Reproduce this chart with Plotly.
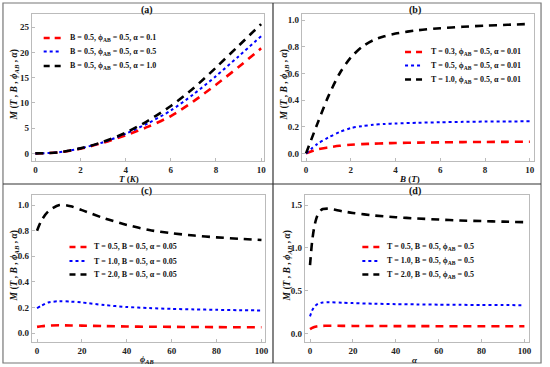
import plotly.graph_objects as go

W, H = 550, 367

# ---------------- data ----------------
# (a) M vs T
T_a = [0, 1, 2, 3, 4, 5, 6, 7, 8, 9, 10]
a_red = [0, 0.2, 0.95, 2.1, 3.6, 5.3, 7.4, 10.3, 13.6, 17.1, 20.8]
a_blue = [0, 0.2, 1.0, 2.2, 3.9, 6.0, 8.5, 11.7, 15.3, 19.2, 23.2]
a_black = [0, 0.2, 1.0, 2.3, 4.1, 6.5, 9.4, 12.9, 17.0, 21.3, 25.6]
a_names = ["B = 0.5, ϕ<sub>AB</sub> = 0.5, α = 0.1",
           "B = 0.5, ϕ<sub>AB</sub> = 0.5, α = 0.5",
           "B = 0.5, ϕ<sub>AB</sub> = 0.5, α = 1.0"]

# (b) M vs B
B_b = [0, 0.5, 1, 1.5, 2, 2.5, 3, 3.5, 4, 5, 6, 7, 8, 9, 10]
b_red = [0, 0.03, 0.045, 0.057, 0.065, 0.07, 0.073, 0.076, 0.078, 0.081, 0.083, 0.085, 0.086, 0.087, 0.088]
b_blue = [0, 0.07, 0.12, 0.16, 0.19, 0.205, 0.215, 0.221, 0.225, 0.23, 0.234, 0.237, 0.239, 0.24, 0.241]
b_black = [0, 0.22, 0.43, 0.6, 0.72, 0.8, 0.85, 0.88, 0.9, 0.925, 0.94, 0.951, 0.959, 0.966, 0.972]
b_names = ["T = 0.3, ϕ<sub>AB</sub> = 0.5, α = 0.01",
           "T = 0.5, ϕ<sub>AB</sub> = 0.5, α = 0.01",
           "T = 1.0, ϕ<sub>AB</sub> = 0.5, α = 0.01"]

# (c) M vs phi_AB
phi_c = [0, 2, 5, 10, 15, 20, 30, 40, 50, 60, 70, 80, 90, 100]
c_red = [0.05, 0.055, 0.06, 0.062, 0.061, 0.06, 0.056, 0.053, 0.051, 0.05, 0.049, 0.048, 0.047, 0.047]
c_blue = [0.195, 0.215, 0.24, 0.25, 0.247, 0.24, 0.22, 0.205, 0.197, 0.19, 0.186, 0.183, 0.18, 0.178]
c_black = [0.8, 0.88, 0.95, 1.0, 0.99, 0.96, 0.896, 0.845, 0.805, 0.78, 0.762, 0.748, 0.737, 0.727]
c_names = ["T = 0.5, B = 0.5, α = 0.05",
           "T = 1.0, B = 0.5, α = 0.05",
           "T = 2.0, B = 0.5, α = 0.05"]

# (d) M vs alpha
al_d = [0, 1, 2, 3, 4, 5, 6, 8, 10, 15, 20, 30, 40, 50, 60, 70, 80, 90, 100]
d_red = [0.05, 0.065, 0.075, 0.082, 0.086, 0.088, 0.089, 0.09, 0.09, 0.089, 0.088, 0.087, 0.086, 0.086, 0.085, 0.085, 0.085, 0.085, 0.085]
d_blue = [0.2, 0.27, 0.31, 0.335, 0.35, 0.358, 0.362, 0.365, 0.364, 0.36, 0.355, 0.348, 0.343, 0.34, 0.337, 0.335, 0.333, 0.332, 0.331]
d_black = [0.8, 1.08, 1.25, 1.35, 1.41, 1.44, 1.455, 1.46, 1.455, 1.43, 1.41, 1.38, 1.36, 1.345, 1.333, 1.322, 1.315, 1.308, 1.302]
d_names = ["T = 0.5, B = 0.5, ϕ<sub>AB</sub> = 0.5",
           "T = 1.0, B = 0.5, ϕ<sub>AB</sub> = 0.5",
           "T = 2.0, B = 0.5, ϕ<sub>AB</sub> = 0.5"]

# ---------------- styling ----------------
FONT = "Liberation Serif"
styles = [dict(color="#ff0000", width=2.6, dash="8px,6px"),
          dict(color="#0000ff", width=2.0, dash="dot"),
          dict(color="#000000", width=2.6, dash="8px,6px")]

def px2x(p):
    return p / W

def px2y(p):
    return 1 - p / H

panels = [
    dict(x=T_a, ys=[a_red, a_blue, a_black], names=a_names, dom=(32, 266, 14, 161),
         xr=[-0.16, 10.13], yr=[-1.5, 27.6], xt=[0, 2, 4, 6, 8, 10], yt=[0, 5, 10, 15, 20, 25],
         ytf=None, leg=(44, 62, 68, [38, 51.5, 66]), title="(a)", tx=148, xtx=130,
         xtitle="<i>T</i> (<i>K</i>)"),
    dict(x=B_b, ys=[b_red, b_blue, b_black], names=b_names, dom=(304, 538, 14, 161),
         xr=[-0.19, 10.19], yr=[-0.057, 1.047], xt=[0, 2, 4, 6, 8, 10], yt=[0, 0.2, 0.4, 0.6, 0.8, 1.0],
         ytf=".1f", leg=(408, 426, 432, [52, 65.5, 79.5]), title="(b)", tx=418, xtx=412,
         xtitle="<i>B</i> (<i>T</i>)"),
    dict(x=phi_c, ys=[c_red, c_blue, c_black], names=c_names, dom=(32, 267, 195, 342),
         xr=[-2.35, 101.6], yr=[-0.068, 1.078], xt=[0, 20, 40, 60, 80, 100], yt=[0, 0.2, 0.4, 0.6, 0.8, 1.0],
         ytf=".1f", leg=(70, 88, 93, [247, 261, 274.5]), title="(c)", tx=148, xtx=148,
         xtitle="<i>ϕ<sub>AB</sub></i>"),
    dict(x=al_d, ys=[d_red, d_blue, d_black], names=d_names, dom=(307, 533, 195, 342),
         xr=[-2.45, 102.2], yr=[-0.10, 1.62], xt=[0, 20, 40, 60, 80, 100], yt=[0, 0.5, 1.0, 1.5],
         ytf=".1f", leg=(365, 383, 388, [247, 261, 274.5]), title="(d)", tx=418, xtx=418,
         xtitle="<i>α</i>"),
]

fig = go.Figure()
layout = {}
annotations = []
shapes = []
tickfont = dict(family=FONT, size=9, color="#222", weight="bold")

for i, p in enumerate(panels):
    n = i + 1
    xa = "x" if n == 1 else f"x{n}"
    ya = "y" if n == 1 else f"y{n}"
    x0, x1, y0, y1 = p["dom"]
    for ys, name, st in zip(p["ys"], p["names"], styles):
        fig.add_trace(go.Scatter(x=p["x"], y=ys, mode="lines", name=name,
                                 line=dict(shape="spline", smoothing=0.8, **st),
                                 xaxis=xa, yaxis=ya, showlegend=False))
    axcommon = dict(showgrid=False, zeroline=False, showline=True, mirror=True,
                    linecolor="#bbbbbb", linewidth=1, ticks="inside", ticklen=3,
                    tickcolor="#bbbbbb", tickfont=tickfont)
    layout[("xaxis" if n == 1 else f"xaxis{n}")] = dict(
        domain=[px2x(x0), px2x(x1)], range=p["xr"], tickvals=p["xt"],
        anchor=ya, **axcommon)
    yd = dict(domain=[px2y(y1), px2y(y0)], range=p["yr"], tickvals=p["yt"],
              anchor=xa, **axcommon)
    if p["ytf"]:
        yd["tickformat"] = p["ytf"]
    layout[("yaxis" if n == 1 else f"yaxis{n}")] = yd

    # manual legend
    lx0, lx1, tx, rows = p["leg"]
    for ry, name, st in zip(rows, p["names"], styles):
        shapes.append(dict(type="line", xref="paper", yref="paper",
                           x0=px2x(lx0), x1=px2x(lx1), y0=px2y(ry), y1=px2y(ry),
                           line=dict(color=st["color"], width=st["width"],
                                     dash="6px,5px" if st["dash"] != "dot" else "dot")))
        annotations.append(dict(text="<b>" + name + "</b>", x=px2x(tx), y=px2y(ry),
                                xref="paper", yref="paper", showarrow=False,
                                xanchor="left", yanchor="middle",
                                font=dict(family=FONT, size=8, color="#111")))

    annotations.append(dict(text="<b>" + p["title"] + "</b>", x=px2x(p["tx"]), y=px2y(y0 - 4),
                            xref="paper", yref="paper", showarrow=False,
                            xanchor="center", yanchor="middle",
                            font=dict(family=FONT, size=10, color="#111")))
    annotations.append(dict(text="<b>" + p["xtitle"] + "</b>", x=px2x(p["xtx"]), y=px2y(y1 + 17.5),
                            xref="paper", yref="paper", showarrow=False,
                            xanchor="center", yanchor="middle",
                            font=dict(family=FONT, size=9, color="#111")))
    annotations.append(dict(text="<b><i>M</i> (<i>T</i> , <i>B</i> , <i>ϕ<sub>AB</sub></i> , <i>α</i>)</b>",
                            x=px2x(x0 - 17), y=px2y((y0 + y1) / 2 - 3), textangle=-90,
                            xref="paper", yref="paper", showarrow=False,
                            xanchor="center", yanchor="middle",
                            font=dict(family=FONT, size=9.5, color="#111")))

shapes += [
    dict(type="rect", xref="paper", yref="paper", x0=px2x(3), x1=px2x(545), y0=px2y(363), y1=px2y(3),
         line=dict(color="#777777", width=1.2)),
    dict(type="line", xref="paper", yref="paper", x0=px2x(275), x1=px2x(275), y0=px2y(363), y1=px2y(3),
         line=dict(color="#333333", width=1.2)),
    dict(type="line", xref="paper", yref="paper", x0=px2x(3), x1=px2x(545), y0=px2y(184), y1=px2y(184),
         line=dict(color="#333333", width=1.2)),
]

fig.update_layout(width=W, height=H, margin=dict(l=0, r=0, t=0, b=0),
                  paper_bgcolor="white", plot_bgcolor="white",
                  showlegend=False, annotations=annotations, shapes=shapes, **layout)

fig.write_html("out.html", config={"displayModeBar": False},
               post_script="document.body.style.margin='0';document.body.style.padding='0';")
